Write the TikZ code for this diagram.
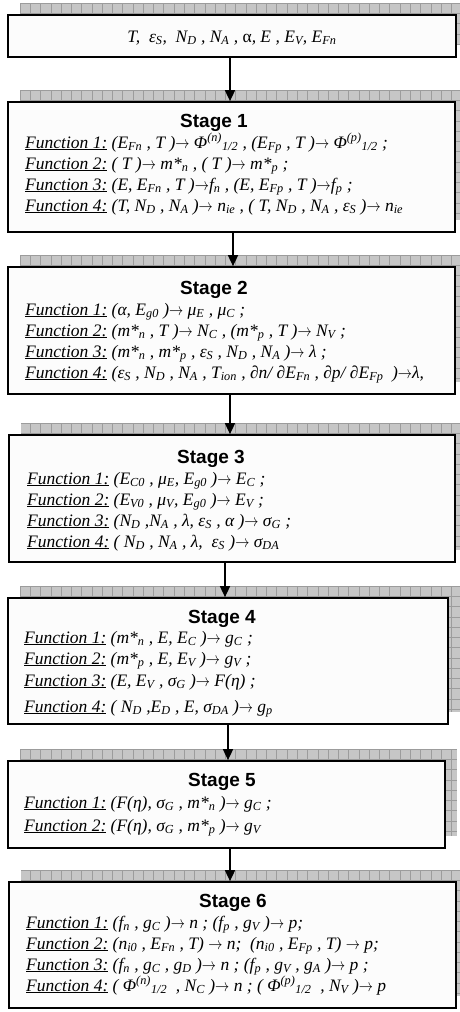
\documentclass[tikz,border=0pt]{standalone}
\usepackage{fontspec}
\usepackage{graphicx}
\setmainfont{Liberation Serif}
\newfontfamily\titlefont{Liberation Sans}
\usetikzlibrary{arrows.meta}

\definecolor{panelfill}{HTML}{FCFCFC}
\definecolor{hatchfill}{HTML}{C6C6C6}
\definecolor{hatchline}{HTML}{9C9C9C}

% inline helpers for the formula lines
\newcommand\sub[1]{\textsubscript{#1}}
\newcommand\sups[1]{\textsuperscript{#1}}
\newcommand\fn[1]{\underline{Function #1:}}
\newcommand\maps{\scalebox{0.82}[1]{$\rightarrow$}}

\tikzset{
  panel/.style={draw=black, line width=1.7pt, fill=panelfill, inner sep=0pt},
  txt/.style={font=\fontsize{17.5}{21}\selectfont\itshape, inner sep=0pt, anchor=base west},
  ttl/.style={font=\titlefont\bfseries\fontsize{19}{22}\selectfont, inner sep=0pt, anchor=base},
  flow/.style={line width=1.6pt, -{Triangle[width=10pt,length=11pt]}},
  hatch/.style={hatchline, line width=0.6pt}
}

% hatched drop shadow (offset up-right by 12) and the panel itself
% #1 name, #2 left, #3 top, #4 right, #5 bottom
\newcommand\stagepanel[5]{%
  \begin{scope}
    \clip (0,0) rectangle (460,1012);
    \clip (#2+12,#3-12) rectangle (#4+12,#5-12);
    \fill[hatchfill] (#2+12,#3-12) rectangle (#4+12,#5-12);
    \foreach \k in {0,...,44}
      \draw[hatch] ({20+\k*10.27},#3-12) -- ({20+\k*10.27},#5-12);
    \foreach \k in {0,...,13}
      \draw[hatch] (#2+12,{#3-12+\k*10.27}) -- (#4+12,{#3-12+\k*10.27});
  \end{scope}
  \node[panel, minimum width={#4-#2}, minimum height={#5-#3}] (#1)
    at ({(#2+#4)/2},{(#3+#5)/2}) {};
}

\begin{document}
\begin{tikzpicture}[x=1pt, y=-1pt]
\useasboundingbox (0,0) rectangle (460,1012);
\fill[white] (0,0) rectangle (460,1012);

% panels
\stagepanel{inputs}{8}{15}{456}{57}
\stagepanel{st1}{8}{102}{455}{232}
\stagepanel{st2}{8}{267}{455}{394}
\stagepanel{st3}{9}{435}{455}{562}
\stagepanel{st4}{8}{598}{448}{724}
\stagepanel{st5}{8}{761}{445}{848}
\stagepanel{st6}{9}{882}{456}{1008}

% arrow columns
\coordinate (c1) at (230,0);
\coordinate (c2) at (233,0);
\coordinate (c3) at (230,0);
\coordinate (c4) at (225,0);
\coordinate (c5) at (228,0);
\coordinate (c6) at (230,0);

\draw[flow] (inputs.south -| c1) -- (st1.north -| c1);
\draw[flow] (st1.south -| c2) -- (st2.north -| c2);
\draw[flow] (st2.south -| c3) -- (st3.north -| c3);
\draw[flow] (st3.south -| c4) -- (st4.north -| c4);
\draw[flow] (st4.south -| c5) -- (st5.north -| c5);
\draw[flow] (st5.south -| c6) -- (st6.north -| c6);

% input parameters
\node[txt, anchor=base] (inlist) at (232,42)
  {T,~ ε\sub{S},~ N\sub{D} , N\sub{A} , {\upshape α}, E , E\sub{V}, E\sub{Fn}};

% stage 1
\node[ttl] (t1) at (214,127) {Stage 1};
\node[txt] (s1a) at (25,148) {\fn{1} (E\sub{Fn} , T )\maps{} Φ\sups{(n)}\sub{1/2} , (E\sub{Fp} , T )\maps{} Φ\sups{(p)}\sub{1/2} ;};
\node[txt] (s1b) at (25,169) {\fn{2} ( T )\maps{} m*\sub{n} , ( T )\maps{} m*\sub{p} ;};
\node[txt] (s1c) at (25,190) {\fn{3} (E, E\sub{Fn} , T )\maps{}f\sub{n} , (E, E\sub{Fp} , T )\maps{}f\sub{p} ;};
\node[txt] (s1d) at (25,211) {\fn{4} (T, N\sub{D} , N\sub{A} )\maps{} n\sub{ie} , ( T, N\sub{D} , N\sub{A} , ε\sub{S} )\maps{} n\sub{ie}};

% stage 2
\node[ttl] (t2) at (214,294) {Stage 2};
\node[txt] (s2a) at (25,315) {\fn{1} (α, E\sub{g0} )\maps{} μ\sub{E} , μ\sub{C} ;};
\node[txt] (s2b) at (25,336) {\fn{2} (m*\sub{n} , T )\maps{} N\sub{C} , (m*\sub{p} , T )\maps{} N\sub{V} ;};
\node[txt] (s2c) at (25,357) {\fn{3} (m*\sub{n} , m*\sub{p} , ε\sub{S} , N\sub{D} , N\sub{A} )\maps{} λ ;};
\node[txt] (s2d) at (25,378) {\fn{4} (ε\sub{S} , N\sub{D} , N\sub{A} , T\sub{ion} , ∂n/ ∂E\sub{Fn} , ∂p/ ∂E\sub{Fp}~ )\maps{}λ,};

% stage 3
\node[ttl] (t3) at (211,463) {Stage 3};
\node[txt] (s3a) at (27,484) {\fn{1} (E\sub{C0} , μ\sub{E}, E\sub{g0} )\maps{} E\sub{C} ;};
\node[txt] (s3b) at (27,505) {\fn{2} (E\sub{V0} , μ\sub{V}, E\sub{g0} )\maps{} E\sub{V} ;};
\node[txt] (s3c) at (27,526) {\fn{3} (N\sub{D} ,N\sub{A} , λ, ε\sub{S} , α )\maps{} σ\sub{G} ;};
\node[txt] (s3d) at (27,547) {\fn{4} ( N\sub{D} , N\sub{A} , λ,~ ε\sub{S} )\maps{} σ\sub{DA}};

% stage 4
\node[ttl] (t4) at (222,623) {Stage 4};
\node[txt] (s4a) at (24,643) {\fn{1} (m*\sub{n} , E, E\sub{C} )\maps{} g\sub{C} ;};
\node[txt] (s4b) at (24,664) {\fn{2} (m*\sub{p} , E, E\sub{V} )\maps{} g\sub{V} ;};
\node[txt] (s4c) at (24,686) {\fn{3} (E, E\sub{V} , σ\sub{G} )\maps{} F(η) ;};
\node[txt] (s4d) at (24,712) {\fn{4} ( N\sub{D} ,E\sub{D} , E, σ\sub{DA} )\maps{} g\sub{p}};

% stage 5
\node[ttl] (t5) at (222,786) {Stage 5};
\node[txt] (s5a) at (24,808) {\fn{1} (F(η), σ\sub{G} , m*\sub{n} )\maps{} g\sub{C} ;};
\node[txt] (s5b) at (24,831) {\fn{2} (F(η), σ\sub{G} , m*\sub{p} )\maps{} g\sub{V}};

% stage 6
\node[ttl] (t6) at (233,907) {Stage 6};
\node[txt] (s6a) at (26,928) {\fn{1} (f\sub{n} , g\sub{C} )\maps{} n ; (f\sub{p} , g\sub{V} )\maps{} p;};
\node[txt] (s6b) at (26,949) {\fn{2} (n\sub{i0} , E\sub{Fn} , T) \maps{} n;~ (n\sub{i0} , E\sub{Fp} , T) \maps{} p;};
\node[txt] (s6c) at (26,970) {\fn{3} (f\sub{n} , g\sub{C} , g\sub{D} )\maps{} n ; (f\sub{p} , g\sub{V} , g\sub{A} )\maps{} p ;};
\node[txt] (s6d) at (26,991) {\fn{4} ( Φ\sups{(n)}\sub{1/2}~ , N\sub{C} )\maps{} n ; ( Φ\sups{(p)}\sub{1/2}~ , N\sub{V} )\maps{} p};
\end{tikzpicture}
\end{document}
